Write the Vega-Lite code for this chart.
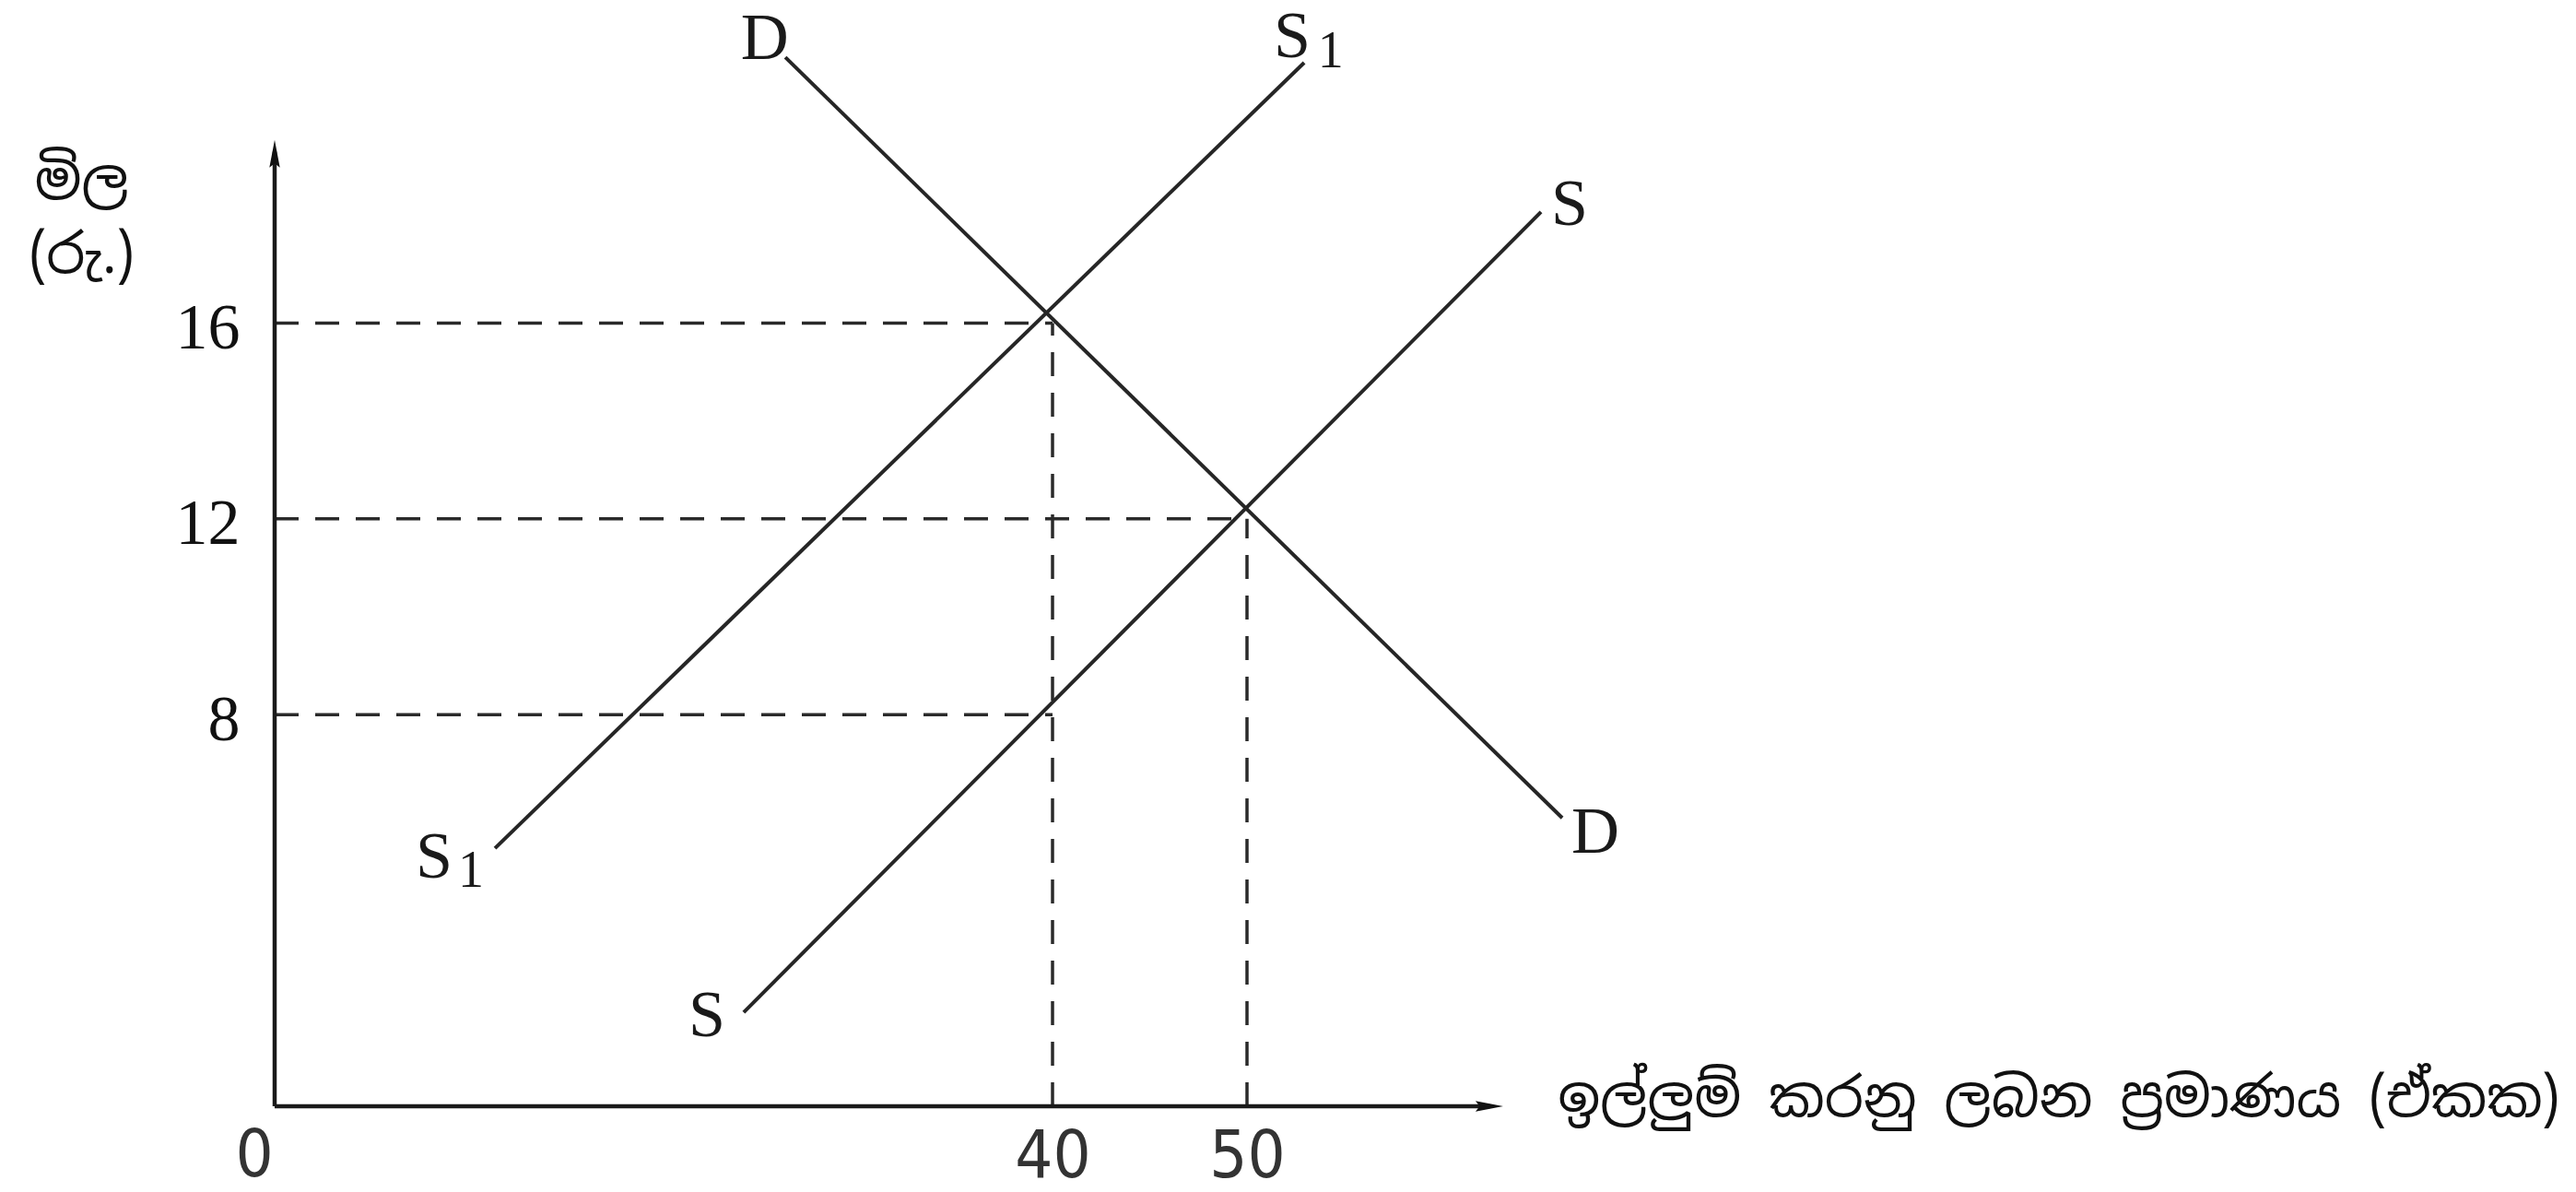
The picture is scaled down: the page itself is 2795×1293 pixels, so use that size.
{
  "$schema": "https://vega.github.io/schema/vega-lite/v6.json",
  "width": 2497,
  "height": 1200,
  "autosize": "none",
  "padding": {"left": 298, "top": 0, "right": 0, "bottom": 93},
  "background": "white",
  "config": {"view": {"stroke": null}},
  "datasets": {
    "curves": [
      {"curve": "D", "x": 26.26, "y": 21.43},
      {"curve": "D", "x": 66.21, "y": 5.89},
      {"curve": "S1", "x": 11.33, "y": 5.27},
      {"curve": "S1", "x": 52.94, "y": 21.32},
      {"curve": "S", "x": 24.12, "y": 1.92},
      {"curve": "S", "x": 65.12, "y": 18.27}
    ],
    "guides": [
      {"x": 0, "y": 16, "x2": 40, "y2": 16},
      {"x": 0, "y": 12, "x2": 50, "y2": 12},
      {"x": 0, "y": 8, "x2": 40, "y2": 8},
      {"x": 40, "y": 0, "x2": 40, "y2": 16},
      {"x": 50, "y": 0, "x2": 50, "y2": 12}
    ],
    "axes": [
      {"axis": "y", "x": 0, "y": 0, "x2": 0, "y2": 19.5},
      {"axis": "x", "x": 0, "y": 0, "x2": 62.5, "y2": 0}
    ],
    "arrows": [
      {"axis": "y", "x": 0, "y": 19.46},
      {"axis": "x", "x": 62.46, "y": 0}
    ],
    "labels": [
      {"label": "D", "role": "main", "end": "high", "x": 25.2, "y": 21.8},
      {"label": "S", "role": "main", "end": "high", "x": 52.32, "y": 21.85},
      {"label": "1", "role": "sub", "end": "high", "x": 54.3, "y": 21.55},
      {"label": "S", "role": "main", "end": "high", "x": 66.59, "y": 18.42},
      {"label": "D", "role": "main", "end": "low", "x": 67.91, "y": 5.59},
      {"label": "S", "role": "main", "end": "low", "x": 8.2, "y": 5.08},
      {"label": "1", "role": "sub", "end": "low", "x": 10.1, "y": 4.8},
      {"label": "S", "role": "main", "end": "low", "x": 22.23, "y": 1.85}
    ],
    "origin": [
      {"label": "0", "x": 0, "y": 0}
    ]
  },
  "encoding": {
    "x": {"field": "x", "type": "quantitative", "scale": {"domain": [0, 118.34], "nice": false, "zero": false},
      "axis": {
        "values": [40, 50], "domain": false, "ticks": false, "tickSize": 0, "grid": false,
        "labelFont": "Liberation Sans Narrow, DejaVu Sans Condensed, sans-serif",
        "labelFontSize": 72, "labelColor": "#333", "labelPadding": 54, "labelBaseline": "middle",
        "title": "ඉල්ලුම් කරනු ලබන ප්\u200dරමාණය (ඒකක)",
        "titleFont": "Noto Sans Sinhala, Noto Serif Sinhala, Iskoola Pota, sans-serif",
        "titleFontSize": 60, "titleFontWeight": "normal", "titleColor": "#111",
        "titleAngle": 0, "titleAlign": "left", "titleBaseline": "middle",
        "titleX": 1392, "titleY": -8
      }
    },
    "y": {"field": "y", "type": "quantitative", "scale": {"domain": [0, 22.6], "nice": false, "zero": false},
      "axis": {
        "values": [8, 12, 16], "domain": false, "ticks": false, "tickSize": 0, "grid": false,
        "labelFont": "Liberation Serif, serif",
        "labelFontSize": 70, "labelColor": "#111", "labelPadding": 38, "labelBaseline": "middle",
        "labelOffset": 6,
        "title": ["මිල", "(රු.)"],
        "titleFont": "Noto Sans Sinhala, Noto Serif Sinhala, Iskoola Pota, sans-serif",
        "titleFontSize": 60, "titleFontWeight": "normal", "titleColor": "#111",
        "titleAngle": 0, "titleAlign": "center", "titleBaseline": "middle",
        "titleLineHeight": 80, "titleX": -210, "titleY": 197
      }
    }
  },
  "layer": [
    {
      "data": {"name": "guides"},
      "mark": {"type": "rule", "strokeDash": [26, 18], "strokeWidth": 3.5, "color": "#2a2a2a"},
      "encoding": {
        "x2": {"field": "x2"},
        "y2": {"field": "y2"}
      }
    },
    {
      "data": {"name": "axes"},
      "mark": {"type": "rule", "strokeWidth": 4.5, "color": "#1a1a1a"},
      "encoding": {
        "x2": {"field": "x2"},
        "y2": {"field": "y2"}
      }
    },
    {
      "data": {"name": "arrows"},
      "mark": {"type": "point", "shape": "M0,-1L0.38,1L0,0.7L-0.38,1Z", "filled": true, "size": 900, "color": "#111", "opacity": 1},
      "encoding": {
        "angle": {"condition": {"test": "datum.axis === 'x'", "value": 90}, "value": 0}
      }
    },
    {
      "data": {"name": "curves"},
      "mark": {"type": "line", "strokeWidth": 4, "color": "#262626"},
      "encoding": {
        "detail": {"field": "curve"}
      }
    },
    {
      "data": {"name": "labels"},
      "mark": {"type": "text", "font": "Liberation Serif, serif", "align": "center", "baseline": "middle", "color": "#1a1a1a"},
      "encoding": {
        "text": {"field": "label"},
        "size": {"condition": {"test": "datum.role === 'sub'", "value": 56}, "value": 72},
        "fontWeight": {"condition": {"test": "datum.label === 'D' && datum.end === 'low'", "value": "bold"}, "value": "normal"}
      }
    },
    {
      "data": {"name": "origin"},
      "mark": {"type": "text", "font": "Liberation Sans Narrow, DejaVu Sans Condensed, sans-serif", "fontSize": 72, "align": "center", "baseline": "middle", "dx": -22, "dy": 54, "color": "#333"},
      "encoding": {
        "text": {"field": "label"}
      }
    }
  ]
}
